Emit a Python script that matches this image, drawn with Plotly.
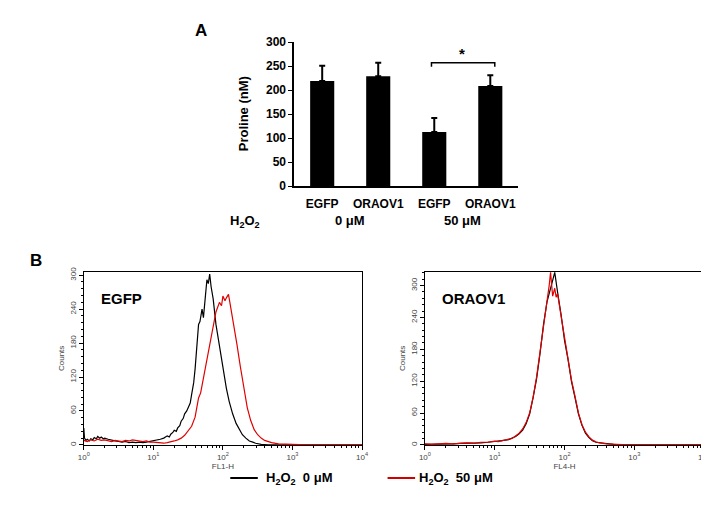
import plotly.graph_objects as go

W, H = 709, 512
FONT = "Liberation Sans, Arial, sans-serif"

# ---------------- Panel A data ----------------
bar_labels = ["EGFP", "ORAOV1", "EGFP", "ORAOV1"]
proline = [219, 229, 113, 209]
proline_err = [32, 28, 29, 22]
h2o2_groups = ["0 μM", "50 μM"]

# ---------------- Panel B data (log10 FL channel, counts) ----------------
egfp_0_log = [0.00, 0.01, 0.03, 0.05, 0.08, 0.10, 0.13, 0.15, 0.18, 0.20, 0.23, 0.25, 0.28, 0.30, 0.35,
              0.40, 0.45, 0.50, 0.55, 0.60, 0.65, 0.70, 0.75, 0.80, 0.85, 0.90, 0.95, 1.00, 1.05, 1.10,
              1.15, 1.20, 1.23, 1.25, 1.28, 1.30, 1.33, 1.35, 1.38, 1.40, 1.43, 1.45, 1.48, 1.50, 1.53,
              1.55, 1.58, 1.60, 1.62, 1.65, 1.67, 1.70, 1.72, 1.75, 1.77, 1.79, 1.81, 1.83, 1.86, 1.90,
              1.95, 2.00, 2.05, 2.09, 2.14, 2.19, 2.24, 2.28, 2.33, 2.38, 2.43, 2.47, 2.55, 2.65, 4.00]
egfp_0_cnt = [30, 12, 8, 10, 7, 11, 9, 13, 11, 15, 12, 14, 11, 12, 10,
              8, 7, 6, 5, 6, 4, 5, 4, 5, 4, 5, 6, 7, 8, 10,
              12, 16, 14, 19, 22, 26, 24, 30, 34, 42, 47, 55, 60, 66, 74,
              89, 110, 134, 162, 213, 218, 240, 225, 262, 292, 285, 302, 280, 258, 213,
              173, 139, 100, 77, 55, 38, 26, 18, 12, 7, 5, 3, 1, 0, 0]

egfp_50_log = [0.00, 0.05, 0.10, 0.15, 0.20, 0.25, 0.30, 0.35, 0.40, 0.45, 0.50, 0.55, 0.60, 0.65, 0.70,
               0.75, 0.80, 0.85, 0.90, 0.95, 1.00, 1.05, 1.10, 1.15, 1.20, 1.25, 1.30, 1.35, 1.40, 1.45,
               1.50, 1.55, 1.60, 1.65, 1.68, 1.70, 1.73, 1.75, 1.80, 1.85, 1.90, 1.95, 1.98, 2.00, 2.03,
               2.05, 2.08, 2.10, 2.15, 2.20, 2.25, 2.28, 2.30, 2.35, 2.40, 2.43, 2.45, 2.50, 2.55, 2.60,
               2.70, 2.80, 2.90, 3.00, 3.20, 4.00]
egfp_50_cnt = [8, 6, 9, 7, 10, 8, 9, 7, 6, 8, 7, 6, 8, 7, 9,
               8, 7, 6, 7, 5, 5, 4, 4, 3, 4, 5, 7, 9, 12, 17,
               24, 33, 49, 83, 92, 105, 122, 139, 173, 207, 235, 252, 246, 263, 255,
               260, 266, 252, 218, 179, 139, 118, 100, 66, 43, 35, 27, 18, 12, 8,
               4, 2, 2, 1, 0, 0]

oraov1_0_log = [0.0, 0.1, 0.2, 0.3, 0.4, 0.5, 0.6, 0.7, 0.8, 0.9, 1.0, 1.05, 1.1, 1.15, 1.2,
                1.25, 1.3, 1.35, 1.4, 1.45, 1.5, 1.55, 1.6, 1.65, 1.7, 1.75, 1.8, 1.83, 1.86, 1.88,
                1.9, 1.95, 2.0, 2.05, 2.1, 2.15, 2.2, 2.25, 2.3, 2.35, 2.4, 2.45, 2.5, 2.6, 2.7,
                2.8, 4.0]
oraov1_0_cnt = [1, 1, 2, 2, 2, 3, 3, 4, 4, 5, 6, 7, 8, 9, 10,
                13, 16, 21, 28, 40, 58, 89, 125, 173, 228, 270, 298, 310, 325, 305,
                288, 246, 197, 161, 119, 89, 58, 37, 22, 14, 8, 5, 4, 2, 1,
                0, 0]

oraov1_50_log = [0.0, 0.1, 0.2, 0.3, 0.4, 0.5, 0.6, 0.7, 0.8, 0.9, 1.0, 1.05, 1.1, 1.15, 1.2,
                 1.25, 1.3, 1.35, 1.4, 1.45, 1.5, 1.55, 1.6, 1.65, 1.7, 1.75, 1.78, 1.80, 1.83, 1.86,
                 1.88, 1.9, 1.95, 2.0, 2.05, 2.1, 2.15, 2.2, 2.25, 2.3, 2.35, 2.4, 2.45, 2.5, 2.6,
                 2.7, 2.8, 2.9, 4.0]
oraov1_50_cnt = [2, 1, 2, 3, 2, 3, 4, 3, 5, 5, 7, 6, 8, 10, 11,
                 12, 17, 22, 30, 42, 60, 90, 128, 178, 232, 272, 300, 325, 280, 295,
                 278, 285, 243, 200, 165, 122, 92, 60, 38, 24, 15, 9, 6, 4, 2,
                 1, 1, 0, 0]

decade_ticks = [0, 1, 2, 3, 4]
count_ticks = [0, 60, 120, 180, 240, 300]


def px(x):
    return x / W


def py(y):
    return 1 - y / H


fig = go.Figure()

# Panel A bars
fig.add_trace(go.Bar(
    x=list(range(len(proline))), y=proline, width=0.43,
    marker=dict(color="black", line=dict(width=0)),
    error_y=dict(type="data", array=proline_err, arrayminus=[0] * len(proline),
                 symmetric=False, color="black", thickness=2, width=3),
    xaxis="x", yaxis="y", showlegend=False, hoverinfo="skip"))


# Panel B histograms
def hist(logs, counts, color, ax):
    return go.Scatter(x=[10 ** v for v in logs], y=counts, mode="lines",
                      line=dict(color=color, width=1.2), xaxis="x" + ax, yaxis="y" + ax,
                      showlegend=False, hoverinfo="skip")


fig.add_trace(hist(egfp_0_log, egfp_0_cnt, "black", "2"))
fig.add_trace(hist(egfp_50_log, egfp_50_cnt, "#e00000", "2"))
fig.add_trace(hist(oraov1_0_log, oraov1_0_cnt, "black", "3"))
fig.add_trace(hist(oraov1_50_log, oraov1_50_cnt, "#e00000", "3"))

tick_text = ["10<sup>%d</sup>" % d for d in decade_ticks]

small = dict(family=FONT, size=8, color="#444")


def hist_x(domain, anchor, title):
    return dict(domain=domain, anchor=anchor, type="log", range=[0, 4],
                tickvals=[10 ** d for d in decade_ticks], ticktext=tick_text,
                tickfont=small, ticks="outside", ticklen=4, tickcolor="black",
                minor=dict(ticks="outside", ticklen=2, tickcolor="black", dtick="D1"),
                showline=True, linecolor="black", linewidth=1.2, mirror=True,
                showgrid=False, zeroline=False,
                title=dict(text=title, font=small, standoff=2))


def hist_y(domain, anchor, top):
    return dict(domain=domain, anchor=anchor, range=[0, top],
                tickvals=count_ticks, tickfont=small, tickangle=-90,
                ticks="outside", ticklen=4, tickcolor="black",
                minor=dict(ticks="outside", ticklen=2, tickcolor="black", dtick=12),
                showline=True, linecolor="black", linewidth=1.2, mirror=True,
                showgrid=False, zeroline=False,
                title=dict(text="Counts", font=small, standoff=2))


b_y = [py(442), py(264)]

fig.update_layout(
    width=W, height=H, margin=dict(l=0, r=0, t=0, b=0),
    paper_bgcolor="white", plot_bgcolor="white",
    font=dict(family=FONT, color="black"),
    xaxis=dict(domain=[px(285), px(513)], anchor="y", range=[-0.5, 3.5],
               tickvals=list(range(len(bar_labels))), ticktext=bar_labels,
               tickfont=dict(family=FONT, size=12, color="black", weight="bold"),
               ticks="outside", ticklen=6, tickcolor="rgba(0,0,0,0)",
               showline=True, linecolor="black", linewidth=1.5,
               showgrid=False, zeroline=False, fixedrange=True),
    yaxis=dict(domain=[py(176), py(28)], anchor="x", range=[0, 300], dtick=50,
               tickfont=dict(family=FONT, size=12, color="black", weight="bold"),
               ticks="outside", ticklen=4, tickcolor="black",
               showline=True, linecolor="black", linewidth=1.5,
               showgrid=False, zeroline=False),
    xaxis2=hist_x([px(71), px(354)], "y2", "FL1-H"),
    yaxis2=hist_y(b_y, "x2", 306),
    xaxis3=hist_x([px(418), px(702)], "y3", "FL4-H"),
    yaxis3=hist_y(b_y, "x3", 326),
)


def bold(s):
    return dict(family=FONT, size=s, color="black", weight="bold")


ann = []
# Panel letters
ann.append(dict(text="A", x=px(190), y=py(16), font=bold(17)))
ann.append(dict(text="B", x=px(22), y=py(252), font=bold(17)))
# Panel A y title
ann.append(dict(text="Proline (nM)", x=px(233), y=py(102), textangle=-90, font=bold(13)))
# H2O2 row
ann.append(dict(text="H<sub>2</sub>O<sub>2</sub>", x=px(235), y=py(212), font=bold(13)))
ann.append(dict(text=h2o2_groups[0], xref="x", x=0.5, y=py(211), font=bold(13)))
ann.append(dict(text=h2o2_groups[1], xref="x", x=2.5, y=py(211), font=bold(13)))
# significance star
ann.append(dict(text="*", xref="x", yref="y", x=2.5, y=276, font=bold(15)))
# sample labels in B
ann.append(dict(text="EGFP", x=px(109), y=py(291), font=bold(15)))
ann.append(dict(text="ORAOV1", x=px(467), y=py(291), font=bold(15)))
# legend texts
ann.append(dict(text="H<sub>2</sub>O<sub>2</sub>  0 μM", x=px(254), y=py(477), xanchor="left", font=bold(13)))
ann.append(dict(text="H<sub>2</sub>O<sub>2</sub>  50 μM", x=px(410), y=py(477), xanchor="left", font=bold(13)))

for a in ann:
    a.setdefault("xref", "paper")
    a.setdefault("yref", "paper")
    a.setdefault("xanchor", "center")
    a.setdefault("yanchor", "middle")
    a["showarrow"] = False
fig.update_layout(annotations=ann)

shapes = [
    # significance bracket
    dict(type="path", xref="x", yref="y", path="M 1.95,249 L 1.95,257 L 3.08,257 L 3.08,249",
         line=dict(color="black", width=1.5)),
    # legend lines
    dict(type="line", xref="paper", yref="paper", x0=px(220), x1=px(248), y0=py(476), y1=py(476),
         line=dict(color="black", width=2)),
    dict(type="line", xref="paper", yref="paper", x0=px(380), x1=px(408), y0=py(476), y1=py(476),
         line=dict(color="#d00000", width=2)),
]
fig.update_layout(shapes=shapes)

fig.write_html("out.html")
